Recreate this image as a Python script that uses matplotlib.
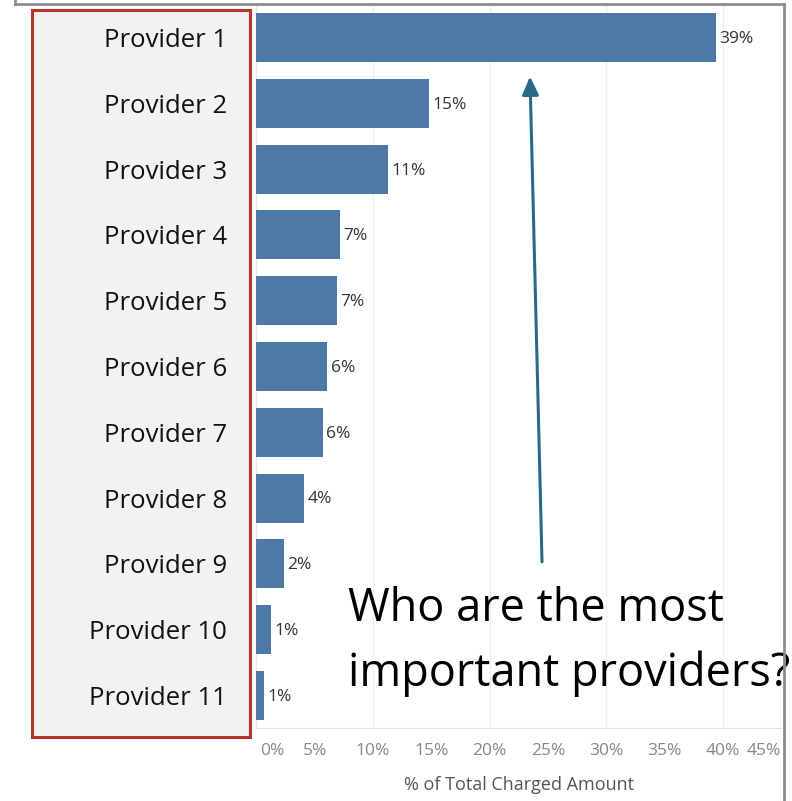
import numpy as np
import matplotlib
matplotlib.use("Agg")
import matplotlib.pyplot as plt
from matplotlib.patches import Rectangle
from matplotlib.lines import Line2D
import matplotlib.transforms as mtransforms

plt.rcParams['font.family'] = ['Open Sans', 'DejaVu Sans']

# share of total charged amount per provider (%)
providers = ["Provider %d" % i for i in range(1, 12)]
share = [39.4, 14.8, 11.3, 7.2, 6.9, 6.1, 5.7, 4.1, 2.4, 1.3, 0.7]
xticks = [0, 5, 10, 15, 20, 25, 30, 35, 40, 45]

W, H = 792, 801
fig = plt.figure(figsize=(W / 100, H / 100), dpi=100)

def fx(px):
    return px / W

def fy(py):
    return 1 - py / H

# plot area in pixel terms
left, right, top, bottom = 256.3, 781.3, 4.8, 728.2
ax = fig.add_axes([fx(left), fy(bottom), fx(right - left), (bottom - top) / H])

# grey panel behind the row headers
fig.patches.append(Rectangle((fx(32), fy(737)), fx(250 - 32), (737 - 10) / H,
                             transform=fig.transFigure, facecolor='#f2f2f2',
                             edgecolor='#b5352b', linewidth=2.2, zorder=-1))

# outer frame
for xs, ys in [([15, 15], [0, 4]), ([15, 784], [4, 4]), ([784, 784], [4, 801])]:
    fig.lines.append(Line2D([fx(x) for x in xs], [fy(y) for y in ys],
                            transform=fig.transFigure, color='#8c8c8c', linewidth=2))

y = np.arange(len(providers))
ax.barh(y, share, height=0.745, color='#4e79a7', zorder=3)
for yi, v in zip(y, share):
    ax.annotate("%.0f%%" % v, (v, yi), xytext=(2.2, -1), textcoords='offset points',
                va='center', ha='left', fontsize=12.5, color='#333333', zorder=4)

ax.set_xlim(0, 45)
ax.set_ylim(len(providers) - 0.5, -0.5)

ax.set_yticks(y)
ax.set_yticklabels(providers, fontsize=18.5, color='#111111')
ax.tick_params(axis='y', length=0, pad=21)

ax.set_xticks(xticks)
ax.set_xticklabels(["%d%%" % t for t in xticks], fontsize=12.5, color='#888888')
ax.tick_params(axis='x', length=0, pad=11)
labels = ax.get_xticklabels()
labels[0].set_ha('left')
labels[0].set_transform(labels[0].get_transform() +
                        mtransforms.ScaledTranslation(4 / 100, 0, fig.dpi_scale_trans))
labels[-1].set_ha('right')

for g in range(10, 45, 10):
    ax.axvline(g, color='#efefef', linewidth=1, zorder=1)

for s in ['top', 'right']:
    ax.spines[s].set_visible(False)
ax.spines['bottom'].set_color('#e3e3e3')
ax.spines['left'].set_color('#e8e8e8')

ax.set_xlabel("% of Total Charged Amount", fontsize=13, color='#555555', labelpad=12)

# callout
ax.annotate("", xy=(23.46, 0.59), xytext=(24.49, 7.97),
            arrowprops=dict(arrowstyle='-|>,head_length=1.1,head_width=0.5',
                            color='#2b6a86', linewidth=2.2, shrinkA=0, shrinkB=0),
            zorder=5)
ax.text(7.86, 8.87, "Who are the most", fontsize=32.5, color='black',
        ha='left', va='baseline', zorder=5, clip_on=False)
ax.text(7.86, 9.86, "important providers?", fontsize=32.5, color='black',
        ha='left', va='baseline', zorder=5, clip_on=False)

fig.savefig("out.png", dpi=100)
